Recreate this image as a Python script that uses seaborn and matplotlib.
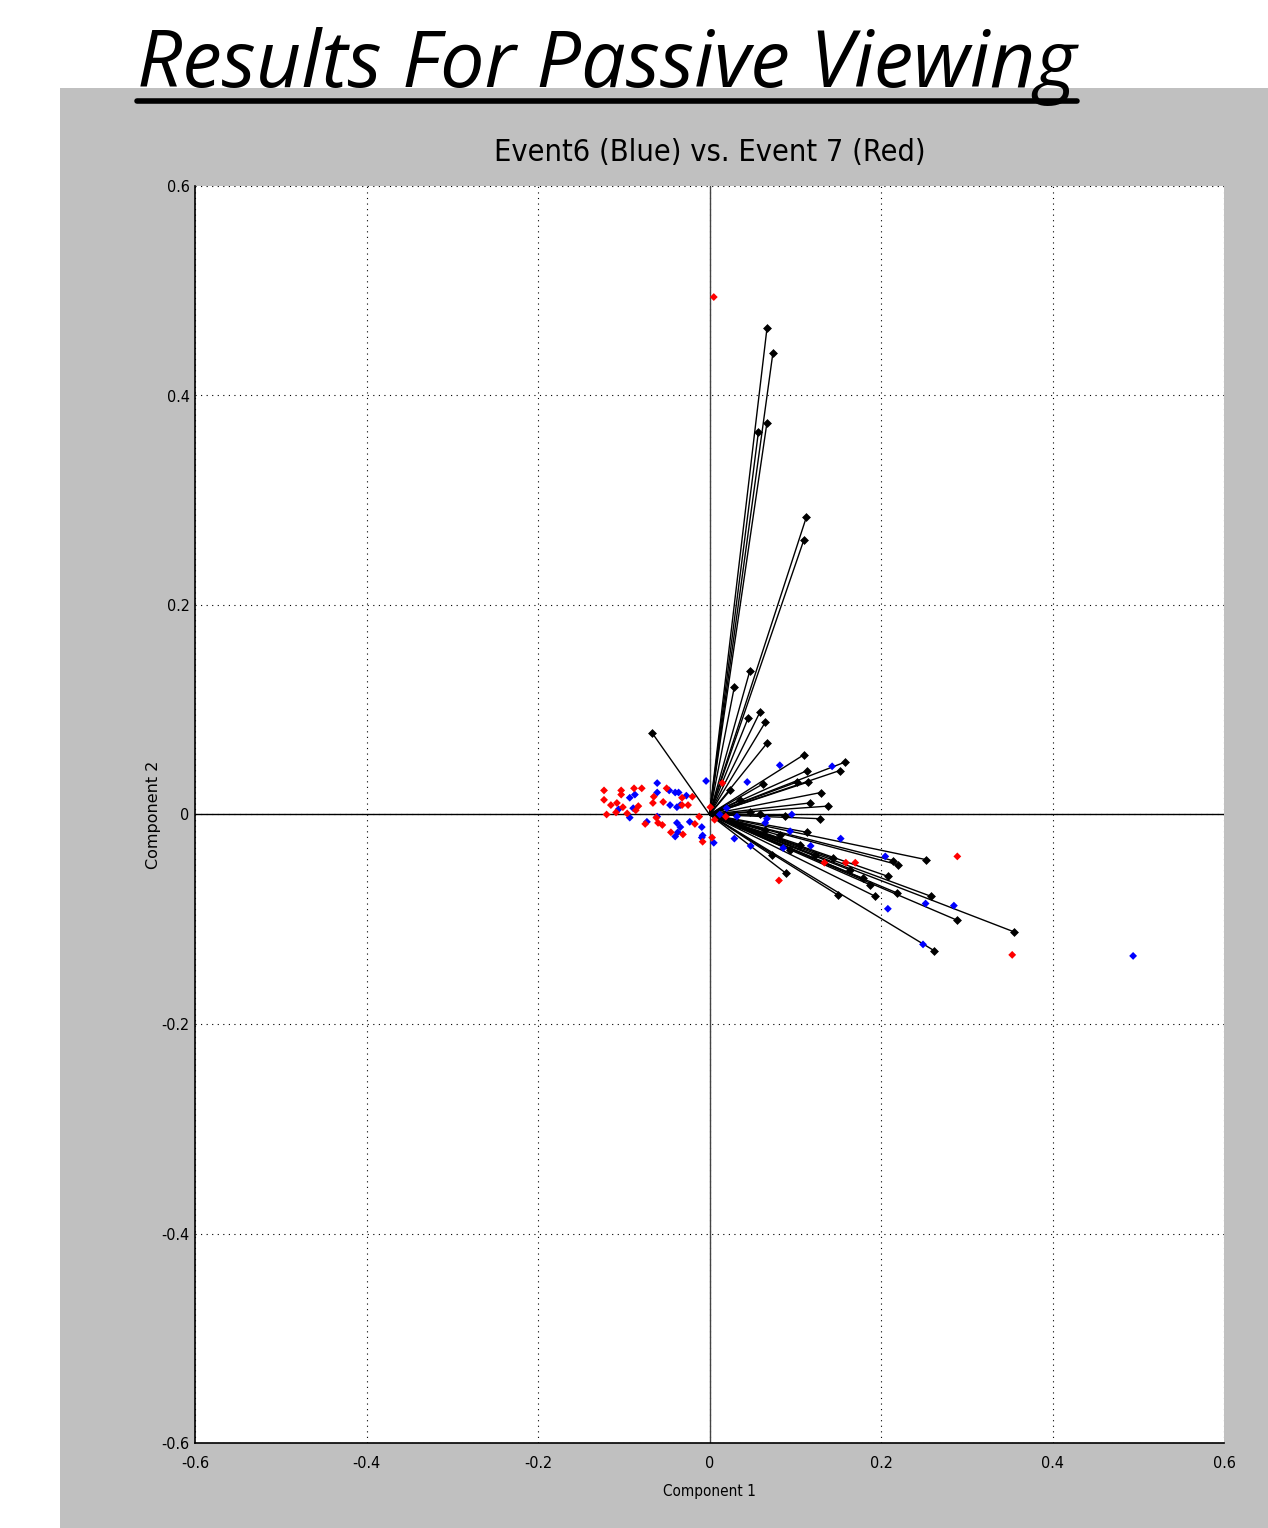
import numpy as np
import pandas as pd
import matplotlib
matplotlib.use('Agg')
import matplotlib.pyplot as plt
from matplotlib.lines import Line2D
from matplotlib.patches import Rectangle
from matplotlib import font_manager
import seaborn as sns

# biplot coefficient vectors (end points, black diamonds)
vec_x = [-0.067, 0.067, 0.074, 0.067, 0.057, 0.113, 0.110, 0.047, 0.029, 0.059,
         0.045, 0.065, 0.067, 0.110, 0.158, 0.152, 0.114, 0.115, 0.102, 0.062,
         0.130, 0.138, 0.117, 0.129, 0.114, 0.252, 0.214, 0.220, 0.208, 0.179,
         0.144, 0.089, 0.193, 0.150, 0.219, 0.258, 0.289, 0.355, 0.262, 0.073,
         0.088, 0.059, 0.047, 0.036, 0.065, 0.082, 0.106, 0.094, 0.123, 0.164,
         0.187, 0.024, 0.036]
vec_y = [0.078, 0.464, 0.441, 0.374, 0.365, 0.284, 0.262, 0.137, 0.122, 0.098,
         0.092, 0.088, 0.068, 0.057, 0.050, 0.042, 0.042, 0.031, 0.031, 0.029,
         0.021, 0.008, 0.011, -0.004, -0.017, -0.043, -0.044, -0.048, -0.059, -0.061,
         -0.042, -0.056, -0.078, -0.077, -0.075, -0.078, -0.101, -0.112, -0.130, -0.039,
         -0.001, -0.000, 0.002, -0.010, -0.015, -0.020, -0.029, -0.034, -0.039, -0.053,
         -0.067, 0.023, 0.014]

# Event 6 scores (blue)
ev6_x = [0.082, 0.143, 0.044, -0.004, 0.096, 0.067, 0.094, 0.029, 0.048, 0.086,
         0.118, 0.153, 0.205, 0.252, 0.285, 0.208, 0.249, 0.005, 0.494,
         -0.061, -0.061, -0.047, -0.040, -0.036, -0.027, -0.093, -0.087, -0.089, -0.106,
         -0.073, -0.093, -0.046, -0.038, -0.034, -0.061, -0.038, -0.034, -0.037, -0.040,
         -0.023, -0.009, -0.008, -0.009, 0.012, 0.020, 0.032, 0.065]
ev6_y = [0.047, 0.046, 0.031, 0.032, -0.000, -0.004, -0.016, -0.023, -0.030, -0.032,
         -0.030, -0.023, -0.040, -0.085, -0.087, -0.090, -0.124, -0.027, -0.135,
         0.030, 0.021, 0.023, 0.021, 0.021, 0.018, 0.016, 0.019, 0.006, 0.005,
         -0.007, -0.003, 0.009, 0.007, 0.009, -0.002, -0.008, -0.012, -0.017, -0.021,
         -0.007, -0.012, -0.020, -0.022, -0.000, 0.006, -0.002, -0.008]

# Event 7 scores (red)
ev7_x = [0.005, 0.015, 0.001, 0.019, 0.003, -0.008, 0.081, 0.134, 0.159, 0.170,
         0.289, 0.353,
         -0.123, -0.123, -0.103, -0.088, -0.079, -0.103, -0.115, -0.108, -0.101, -0.120,
         -0.109, -0.083, -0.086, -0.096, -0.075, -0.062, -0.060, -0.055, -0.066, -0.065,
         -0.050, -0.054, -0.032, -0.032, -0.025, -0.020, -0.012, -0.017, -0.045, -0.031,
         0.006]
ev7_y = [0.494, 0.030, 0.007, -0.002, -0.022, -0.026, -0.063, -0.046, -0.046, -0.046,
         -0.040, -0.134,
         0.023, 0.014, 0.023, 0.025, 0.025, 0.019, 0.009, 0.011, 0.007, -0.000,
         0.002, 0.008, 0.004, 0.001, -0.009, -0.003, -0.008, -0.010, 0.011, 0.017,
         0.025, 0.012, 0.016, 0.009, 0.009, 0.017, -0.002, -0.009, -0.017, -0.019,
         -0.005]

ticks = [-0.6, -0.4, -0.2, 0, 0.2, 0.4, 0.6]
tick_labels = ['-0.6', '-0.4', '-0.2', '0', '0.2', '0.4', '0.6']

scores = pd.concat([
    pd.DataFrame({'c1': ev6_x, 'c2': ev6_y, 'event': 'Event 6'}),
    pd.DataFrame({'c1': ev7_x, 'c2': ev7_y, 'event': 'Event 7'}),
])
vecs = pd.DataFrame({'c1': vec_x, 'c2': vec_y})

sns.set_style('white')
plt.rcParams['text.color'] = 'black'

# narrow face, close to the matlab one
cond = [f for f in font_manager.fontManager.ttflist
        if 'Condensed' in f.fname and 'DejaVuSans' in f.fname and 'Bold' not in f.fname
        and 'Oblique' not in f.fname]
if cond:
    narrow = font_manager.FontProperties(fname=cond[0].fname)
else:
    narrow = font_manager.FontProperties(family='Liberation Sans')

def nfp(size):
    p = narrow.copy()
    p.set_size(size)
    return p

fig = plt.figure(figsize=(12.68, 15.28), dpi=100)
fig.patch.set_facecolor('white')
# grey matlab figure panel
fig.add_artist(Rectangle((60 / 1268, 0), 1 - 60 / 1268, 1 - 88 / 1528,
                         transform=fig.transFigure, facecolor='#c0c0c0',
                         edgecolor='none', zorder=0))

ax = fig.add_axes([195 / 1268, 1 - 1443 / 1528, 1029 / 1268, 1257 / 1528])
ax.set_facecolor('white')

# axis lines through origin
ax.axhline(0, color='black', lw=1.0, zorder=1)
ax.axvline(0, color='#444444', lw=1.0, zorder=1)

# vectors from origin
for x, y in zip(vecs['c1'], vecs['c2']):
    ax.plot([0, x], [0, y], color='black', lw=1.0, zorder=2)
sns.scatterplot(data=vecs, x='c1', y='c2', marker='D', s=16, color='black',
                edgecolor='black', linewidth=0.5, ax=ax, zorder=4)

sns.scatterplot(data=scores, x='c1', y='c2', hue='event',
                palette={'Event 6': '#0000ff', 'Event 7': '#ff0000'},
                marker='D', s=16, edgecolor='none', legend=False, ax=ax, zorder=3)

ax.set_xlim(-0.6, 0.6)
ax.set_ylim(-0.6, 0.6)
ax.set_xticks(ticks)
ax.set_yticks(ticks)
ax.set_xticklabels(tick_labels, fontproperties=nfp(11.5))
ax.set_yticklabels(tick_labels, fontproperties=nfp(11.5))
ax.tick_params(direction='in', length=6, width=0.8, colors='black')
ax.tick_params(axis='x', pad=9)
ax.tick_params(axis='y', pad=4)
ax.grid(True, color='black', linestyle=(0, (1, 4)), lw=0.8)
for s in ['top', 'right']:
    ax.spines[s].set_visible(False)
for s in ['left', 'bottom']:
    ax.spines[s].set_color('black')
    ax.spines[s].set_linewidth(1.2)

ax.set_xlabel('Component 1', fontproperties=nfp(11), labelpad=10, color='black')
ax.set_ylabel('Component 2', family='DejaVu Sans', fontsize=11.5, labelpad=0,
              color='black')
ax.set_title('Event6 (Blue) vs. Event 7 (Red)', fontproperties=nfp(22), pad=18,
             color='black')

# slide heading, underlined
head = fig.text(137 / 1268, 1 - 87 / 1528, 'Results For Passive Viewing',
                family=['Open Sans', 'DejaVu Sans'], style='italic',
                fontsize=57, ha='left', va='baseline', color='black')
fig.canvas.draw()
bb = head.get_window_extent()
x0 = bb.x0 / fig.bbox.width
x1 = bb.x1 / fig.bbox.width
fig.add_artist(Line2D([x0, x1], [1 - 101 / 1528] * 2, color='black', lw=4,
                      transform=fig.transFigure))

fig.savefig('out.png', dpi=100, facecolor=fig.get_facecolor())
